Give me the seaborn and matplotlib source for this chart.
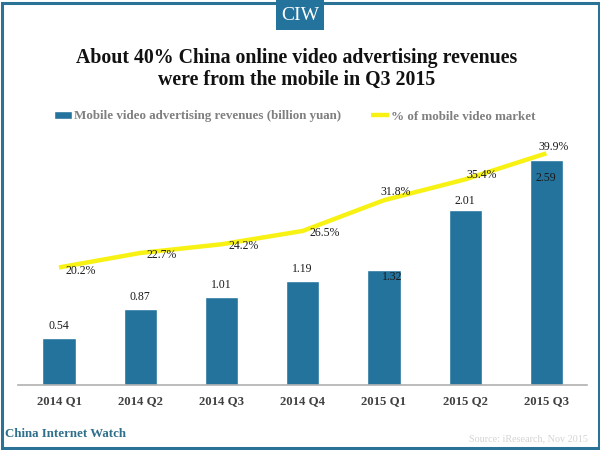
# CIW chart: mobile video ad revenues vs share of the video market
import pandas as pd
import matplotlib.pyplot as plt
import seaborn as sns
from matplotlib.patches import Rectangle

quarters = ['2014 Q1', '2014 Q2', '2014 Q3', '2014 Q4', '2015 Q1', '2015 Q2', '2015 Q3']
revenues = [0.54, 0.87, 1.01, 1.19, 1.32, 2.01, 2.59]
mobile_share = [20.2, 22.7, 24.2, 26.5, 31.8, 35.4, 39.9]

BLUE = '#24739d'
YELLOW = '#f7f213'
W, H = 600, 450

sns.set_theme(style='white')
plt.rcParams['font.family'] = ['Liberation Serif', 'DejaVu Serif']

df = pd.DataFrame({'quarter': quarters, 'revenue': revenues, 'share': mobile_share})

fig = plt.figure(figsize=(6, 4.5), dpi=100)

# chart area, baseline sits at y=384.5 px
ax = fig.add_axes([18.4 / W, 1 - 384.5 / H, 568.6 / W, 284.5 / H])
ax.patch.set_alpha(0)
sns.barplot(data=df, x='quarter', y='revenue', color=BLUE, width=0.41, saturation=1,
            ax=ax, label='Mobile video advertising revenues (billion yuan)', legend=False)
ax.set_xlim(-0.5, 6.5)
ax.set_ylim(0, 3.28)
ax.set_xlabel('')
ax.set_ylabel('')
ax.set_yticks([])
ax.tick_params(axis='x', length=0, pad=8, labelsize=9.2, labelcolor='#404040')
for lab in ax.get_xticklabels():
    lab.set_fontweight('bold')
sns.despine(ax=ax, left=True)
ax.spines['bottom'].set_color('#b0b0b0')
ax.spines['bottom'].set_linewidth(1.2)

ax2 = ax.twinx()
ax2.patch.set_alpha(0)
sns.lineplot(data=df, x='quarter', y='share', color=YELLOW, linewidth=3.2, ax=ax2,
             label='% of mobile video market', solid_capstyle='butt', legend=False)
ax2.set_ylim(0, 49.1)
ax2.set_ylabel('')
ax2.set_yticks([])
for s in ax2.spines.values():
    s.set_visible(False)

# label offsets in px, they don't follow one rule in the original
bar_offsets = [(0, 12), (0, 12), (0, 12), (0, 12), (8, -7), (0, 9), (-1, -18)]
line_offsets = [(22, -4), (21, -2), (22, -2), (22, -2), (12, 8), (16, 4), (7, 6)]
for i, (v, off) in enumerate(zip(revenues, bar_offsets)):
    ax.annotate(f'{v:.2f}', (i, v), xytext=(off[0] * 0.72, off[1] * 0.72),
                textcoords='offset points', ha='center', va='center',
                fontsize=8.5, color='#1a1a1a')
for i, (v, off) in enumerate(zip(mobile_share, line_offsets)):
    ax2.annotate(f'{v}%', (i, v), xytext=(off[0] * 0.72, off[1] * 0.72),
                 textcoords='offset points', ha='center', va='center',
                 fontsize=8.5, color='#1a1a1a')

handles = ax.get_legend_handles_labels()
handles2 = ax2.get_legend_handles_labels()
fig.legend(handles[0] + handles2[0], handles[1] + handles2[1], ncols=2,
           loc='center', bbox_to_anchor=(295 / W, 1 - 116.5 / H), frameon=False,
           labelcolor='#7f7f7f', prop={'weight': 'bold', 'size': 9.35},
           handlelength=1.4, handleheight=0.5, handletextpad=0.15, columnspacing=2.3)

# title and footer texts
fig.text(297 / W, 1 - 69 / H, 'About 40% China online video advertising revenues\nwere from the mobile in Q3 2015',
         ha='center', va='center', fontsize=14.3, fontweight='bold', color='#111111', linespacing=1.1)
fig.text(5 / W, 1 - 437 / H, 'China Internet Watch', ha='left', va='baseline',
         fontsize=9.3, fontweight='bold', color='#2f6f8c')
fig.text(588 / W, 1 - 441 / H, 'Source: iResearch, Nov 2015', ha='right', va='baseline',
         fontsize=7.3, color='#d4d4d4')

# teal frame and CIW tab
fig.add_artist(Rectangle((1.5 / W, 1 - 448 / H), 597 / W, 445 / H, transform=fig.transFigure,
                         fill=False, edgecolor='#2a7397', linewidth=2.2))
fig.add_artist(Rectangle((276 / W, 1 - 30 / H), 48 / W, 30 / H, transform=fig.transFigure,
                         facecolor=BLUE, edgecolor='none'))
fig.text(300 / W, 1 - 15 / H, 'CIW', ha='center', va='center', fontsize=14, color='white')

fig.savefig('out.png', dpi=100)
